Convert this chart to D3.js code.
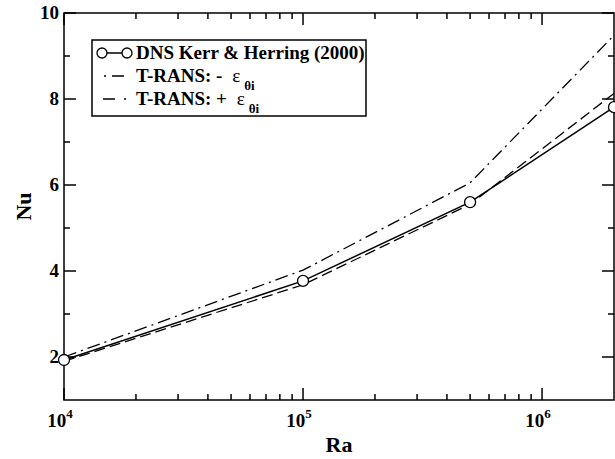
<!DOCTYPE html>
<html>
  <head>
    <meta charset="utf-8">
    <title>Nu vs Ra</title>
    <script src="https://d3js.org/d3.v7.min.js"></script>
    <style>
      body { margin: 0; background: #fff; }
    </style>
  </head>
  <body>
    <div id="chart"></div>
    <script>
      // data
      const ra = [1e4, 1e5, 5e5, 2e6];
      const nuDNS = [1.93, 3.77, 5.6, 7.81];
      const nuMinus = [2.0, 4.02, 6.05, 9.48];
      const nuPlus = [1.9, 3.68, 5.55, 8.13];
      const xMajorTicks = [1e4, 1e5, 1e6];
      const xTickExp = ["4", "5", "6"];
      const yMajorTicks = [2, 4, 6, 8, 10];
      const yMinorTicks = [3, 5, 7, 9];

      const width = 615, height = 459;
      const margin = {top: 13, right: 1, bottom: 59, left: 64};
      const serif = "'Liberation Serif', 'DejaVu Serif', 'Times New Roman', serif";

      const svg = d3.select("#chart")
                    .append("svg")
                    .attr("width", width)
                    .attr("height", height)
                    .attr("font-family", serif)
                    .attr("font-weight", "bold");

      const xScale = d3.scaleLog()
                       .domain([1e4, 2e6])
                       .range([margin.left, width - margin.right]);
      const yScale = d3.scaleLinear()
                       .domain([1, 10])
                       .range([height - margin.bottom, margin.top]);

      const x0 = xScale.range()[0], x1 = xScale.range()[1];
      const y0 = yScale.range()[0], y1 = yScale.range()[1];

      // minor x ticks 2..9 per decade
      const xMinorTicks = [];
      [1e4, 1e5, 1e6].forEach(d => {
        for (let k = 2; k <= 9; k++) {
          const v = d * k;
          if (v < 2e6) xMinorTicks.push(v);
        }
      });

      const frame = svg.append("g").attr("stroke", "#000").attr("stroke-width", 1.5);

      // ticks, pointing inward on all four sides
      const xTicks = [
        ...xMajorTicks.map(v => ({v, len: 12})),
        ...xMinorTicks.map(v => ({v, len: 6}))
      ];
      frame.selectAll("line.xb")
           .data(xTicks)
           .join("line")
           .attr("class", "xb")
           .attr("x1", d => xScale(d.v)).attr("x2", d => xScale(d.v))
           .attr("y1", y0).attr("y2", d => y0 - d.len);
      frame.selectAll("line.xt")
           .data(xTicks)
           .join("line")
           .attr("class", "xt")
           .attr("x1", d => xScale(d.v)).attr("x2", d => xScale(d.v))
           .attr("y1", y1).attr("y2", d => y1 + d.len);

      const yTicks = [
        ...yMajorTicks.map(v => ({v, len: 12})),
        ...yMinorTicks.map(v => ({v, len: 6}))
      ];
      frame.selectAll("line.yl")
           .data(yTicks)
           .join("line")
           .attr("class", "yl")
           .attr("x1", x0).attr("x2", d => x0 + d.len)
           .attr("y1", d => yScale(d.v)).attr("y2", d => yScale(d.v));
      frame.selectAll("line.yr")
           .data(yTicks)
           .join("line")
           .attr("class", "yr")
           .attr("x1", x1).attr("x2", d => x1 - d.len)
           .attr("y1", d => yScale(d.v)).attr("y2", d => yScale(d.v));

      // frame box
      frame.append("rect")
           .attr("x", x0).attr("y", y1)
           .attr("width", x1 - x0).attr("height", y0 - y1)
           .attr("fill", "none");

      // x tick labels 10^n
      const xl = svg.selectAll("text.xlab")
                    .data(xMajorTicks)
                    .join("text")
                    .attr("class", "xlab")
                    .attr("x", d => xScale(d) - 4)
                    .attr("y", y0 + 27)
                    .attr("text-anchor", "middle")
                    .attr("font-size", 19);
      xl.append("tspan").text("10");
      xl.append("tspan")
        .attr("dy", -9)
        .attr("font-size", 13)
        .text((d, i) => xTickExp[i]);

      // y tick labels
      svg.selectAll("text.ylab")
         .data(yMajorTicks)
         .join("text")
         .attr("class", "ylab")
         .attr("x", x0 - 5)
         .attr("y", d => yScale(d) + 6)
         .attr("text-anchor", "end")
         .attr("font-size", 19)
         .text(d => d);

      // axis titles
      svg.append("text")
         .attr("x", (x0 + x1) / 2)
         .attr("y", 452)
         .attr("text-anchor", "middle")
         .attr("font-size", 22)
         .text("Ra");
      svg.append("text")
         .attr("transform", `translate(31, ${(y0 + y1) / 2}) rotate(-90)`)
         .attr("text-anchor", "middle")
         .attr("font-size", 22)
         .text("Nu");

      // lines
      const line = ys => d3.line()
                           .x((d, i) => xScale(ra[i]))
                           .y(d => yScale(d))(ys);

      svg.append("path")
         .attr("d", line(nuMinus))
         .attr("fill", "none")
         .attr("stroke", "#000")
         .attr("stroke-width", 1.3)
         .attr("stroke-dasharray", "13,5,2,5");
      svg.append("path")
         .attr("d", line(nuPlus))
         .attr("fill", "none")
         .attr("stroke", "#000")
         .attr("stroke-width", 1.3)
         .attr("stroke-dasharray", "11,5");
      svg.append("path")
         .attr("d", line(nuDNS))
         .attr("fill", "none")
         .attr("stroke", "#000")
         .attr("stroke-width", 1.5);
      svg.selectAll("circle.dns")
         .data(nuDNS)
         .join("circle")
         .attr("class", "dns")
         .attr("cx", (d, i) => xScale(ra[i]))
         .attr("cy", d => yScale(d))
         .attr("r", 5.5)
         .attr("fill", "#fff")
         .attr("stroke", "#000")
         .attr("stroke-width", 1.3);

      // legend
      const legend = svg.append("g");
      legend.append("rect")
            .attr("x", 92).attr("y", 40)
            .attr("width", 274).attr("height", 76)
            .attr("fill", "#fff")
            .attr("stroke", "#000")
            .attr("stroke-width", 1.5);

      const rows = [53, 76, 99];
      // DNS symbol
      legend.append("line")
            .attr("x1", 102).attr("x2", 127)
            .attr("y1", rows[0]).attr("y2", rows[0])
            .attr("stroke", "#000").attr("stroke-width", 1.5);
      legend.selectAll("circle")
            .data([102, 127])
            .join("circle")
            .attr("cx", d => d).attr("cy", rows[0]).attr("r", 5)
            .attr("fill", "#fff").attr("stroke", "#000").attr("stroke-width", 1.3);
      legend.append("line")
            .attr("x1", 104).attr("x2", 124)
            .attr("y1", rows[1]).attr("y2", rows[1])
            .attr("stroke", "#000").attr("stroke-width", 1.3)
            .attr("stroke-dasharray", "2,6,12");
      legend.append("line")
            .attr("x1", 103).attr("x2", 126)
            .attr("y1", rows[2]).attr("y2", rows[2])
            .attr("stroke", "#000").attr("stroke-width", 1.3)
            .attr("stroke-dasharray", "12,9,2");

      legend.append("text")
            .attr("x", 136).attr("y", rows[0] + 6)
            .attr("font-size", 19)
            .text("DNS Kerr & Herring (2000)");

      const labels = ["T-RANS: - ", "T-RANS: + "];
      labels.forEach((lab, i) => {
        const t = legend.append("text")
                        .attr("x", 136).attr("y", rows[i + 1] + 6)
                        .attr("font-size", 19)
                        .attr("xml:space", "preserve");
        t.append("tspan").text(lab);
        t.append("tspan")
         .attr("dx", 5)
         .attr("font-weight", "normal")
         .attr("font-size", 19)
         .text("ε");
        t.append("tspan")
         .attr("dx", 4)
         .attr("dy", 8)
         .attr("font-size", 13)
         .text("θi");
      });
    </script>
  </body>
</html>
